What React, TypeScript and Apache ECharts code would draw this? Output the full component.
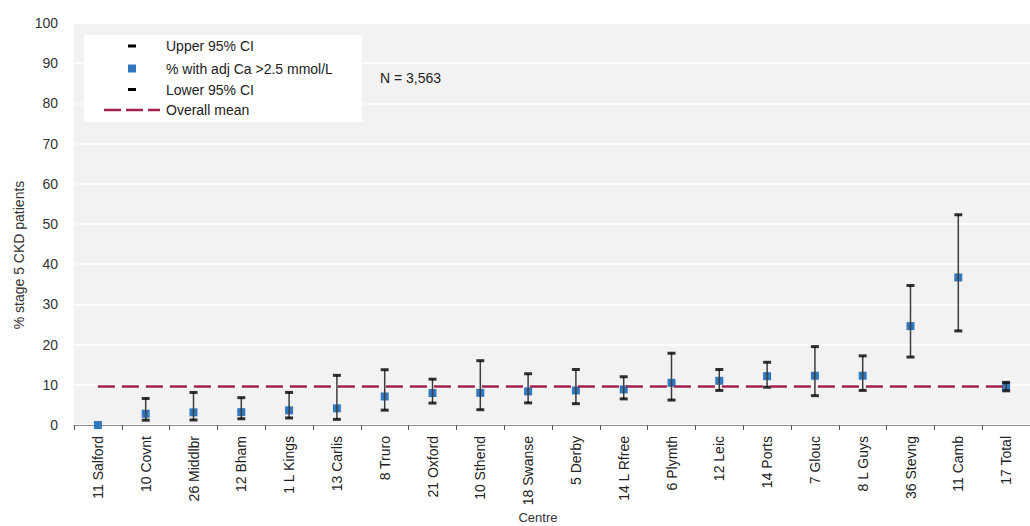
import React, { useEffect, useRef } from 'react';
import * as echarts from 'echarts';

const categories = ['11 Salford', '10 Covnt', '26 Middlbr', '12 Bham', '1 L Kings', '13 Carlis', '8 Truro', '21 Oxford', '10 Sthend', '18 Swanse', '5 Derby', '14 L Rfree', '6 Plymth', '12 Leic', '14 Ports', '7 Glouc', '8 L Guys', '36 Stevng', '11 Camb', '17 Total'];
const pctAdjCa = [0, 2.8, 3.15, 3.2, 3.65, 4.15, 7.1, 7.95, 8.0, 8.35, 8.6, 8.85, 10.5, 11.0, 12.15, 12.25, 12.25, 24.6, 36.7, 9.6];
const upperCI: (number | null)[] = [null, 6.6, 8.1, 6.8, 8.1, 12.35, 13.75, 11.4, 16.0, 12.75, 13.8, 12.0, 17.85, 13.8, 15.6, 19.5, 17.2, 34.7, 52.3, 10.6];
const lowerCI: (number | null)[] = [null, 1.2, 1.25, 1.55, 1.75, 1.4, 3.7, 5.45, 3.8, 5.5, 5.3, 6.5, 6.2, 8.6, 9.4, 7.3, 8.6, 16.9, 23.4, 8.5];
const overallMean = 9.6;
const yMin = 0;
const yMax = 100;
const yInterval = 10;

const seriesNames = ['Upper 95% CI', '% with adj Ca >2.5 mmol/L', 'Lower 95% CI', 'Overall mean'];
const noteText = 'N = 3,563';
const xTitle = 'Centre';
const yTitle = '% stage 5 CKD patients';

const BLUE = '#3278BE';
const RED = '#A0204E';
const FONT = "'Liberation Sans', Arial, sans-serif";

export default function App() {
  const ref = useRef<HTMLDivElement>(null);
  useEffect(() => {
    if (!ref.current) return;
    const chart = echarts.init(ref.current, undefined, { renderer: 'svg' });
    const errData = categories
      .map((c, i) => [i, lowerCI[i], upperCI[i]])
      .filter((d) => d[1] != null && d[2] != null);
    const legendRows = [46, 68.5, 89.5, 110];
    const option: any = {
      animation: false,
      backgroundColor: '#ffffff',
      grid: {
        left: 74,
        right: -15,
        top: 23,
        bottom: 101,
        show: true,
        backgroundColor: '#F2F2F2',
        borderWidth: 0,
        containLabel: false,
      },
      xAxis: {
        type: 'category',
        data: categories,
        boundaryGap: true,
        axisLine: { show: true, lineStyle: { color: '#8c8c8c', width: 1 } },
        axisTick: { show: true, length: 5, lineStyle: { color: '#555' } },
        axisLabel: {
          rotate: 90,
          interval: 0,
          margin: 11,
          fontFamily: FONT,
          fontSize: 14,
          color: '#222',
        },
        splitLine: { show: false },
      },
      yAxis: {
        type: 'value',
        min: yMin,
        max: yMax,
        interval: yInterval,
        axisLine: { show: false },
        axisTick: { show: false },
        axisLabel: { margin: 16, fontFamily: FONT, fontSize: 14, color: '#333' },
        splitLine: { show: true, lineStyle: { color: '#ffffff', width: 1.5 } },
      },
      series: [
        {
          name: seriesNames[1],
          type: 'scatter',
          symbol: 'rect',
          symbolSize: [8, 8],
          itemStyle: { color: BLUE, opacity: 1 },
          z: 2,
          data: pctAdjCa,
        },
        {
          name: 'CI range',
          type: 'custom',
          z: 3,
          data: errData,
          encode: { x: 0, y: [1, 2] },
          renderItem: (params: any, api: any) => {
            const lo = api.coord([api.value(0), api.value(1)]);
            const hi = api.coord([api.value(0), api.value(2)]);
            return {
              type: 'line',
              shape: { x1: lo[0], y1: lo[1], x2: hi[0], y2: hi[1] },
              style: { stroke: '#3c3c3c', lineWidth: 1.5 },
            };
          },
        },
        {
          name: seriesNames[0],
          type: 'scatter',
          symbol: 'rect',
          symbolSize: [8, 3],
          itemStyle: { color: '#000' },
          z: 4,
          data: upperCI.map((v) => (v == null ? '-' : v)),
        },
        {
          name: seriesNames[2],
          type: 'scatter',
          symbol: 'rect',
          symbolSize: [8, 3],
          itemStyle: { color: '#000' },
          z: 4,
          data: lowerCI.map((v) => (v == null ? '-' : v)),
        },
        {
          name: seriesNames[3],
          type: 'line',
          symbol: 'none',
          z: 5,
          lineStyle: { color: RED, width: 2.5, type: [17, 7] },
          data: categories.map(() => overallMean),
        },
      ],
      graphic: [
        {
          type: 'text',
          x: 19,
          y: 255,
          rotation: Math.PI / 2,
          style: {
            x: 0,
            y: 0,
            text: yTitle,
            fontFamily: FONT,
            fontSize: 14,
            fill: '#333',
            align: 'center',
            verticalAlign: 'middle',
          },
        },
        {
          type: 'text',
          style: {
            x: 538,
            y: 517,
            text: xTitle,
            fontFamily: FONT,
            fontSize: 13,
            fill: '#333',
            align: 'center',
            verticalAlign: 'middle',
          },
        },
        {
          type: 'rect',
          shape: { x: 84, y: 35, width: 278, height: 87 },
          style: { fill: '#ffffff' },
          z: 10,
        },
        {
          type: 'rect',
          shape: { x: 128, y: legendRows[0] - 1.5, width: 8, height: 3 },
          style: { fill: '#000' },
          z: 11,
        },
        {
          type: 'rect',
          shape: { x: 128, y: legendRows[1] - 4, width: 8, height: 8 },
          style: { fill: BLUE },
          z: 11,
        },
        {
          type: 'rect',
          shape: { x: 128, y: legendRows[2] - 1.5, width: 8, height: 3 },
          style: { fill: '#000' },
          z: 11,
        },
        {
          type: 'line',
          shape: { x1: 104, y1: legendRows[3], x2: 160, y2: legendRows[3] },
          style: { stroke: RED, lineWidth: 2.5, lineDash: [17, 5] },
          z: 11,
        },
        ...seriesNames.map((name, i) => ({
          type: 'text',
          z: 11,
          style: {
            x: 166,
            y: legendRows[i],
            text: name,
            fontFamily: FONT,
            fontSize: 14,
            fill: '#222',
            verticalAlign: 'middle',
          },
        })),
        {
          type: 'text',
          z: 11,
          style: {
            x: 380,
            y: 78,
            text: noteText,
            fontFamily: FONT,
            fontSize: 14,
            fill: '#222',
            verticalAlign: 'middle',
          },
        },
      ],
    };
    chart.setOption(option);
    return () => chart.dispose();
  }, []);
  return (
    <div
      ref={ref}
      style={{ position: 'absolute', left: 0, top: 0, width: 1030, height: 526 }}
    />
  );
}
